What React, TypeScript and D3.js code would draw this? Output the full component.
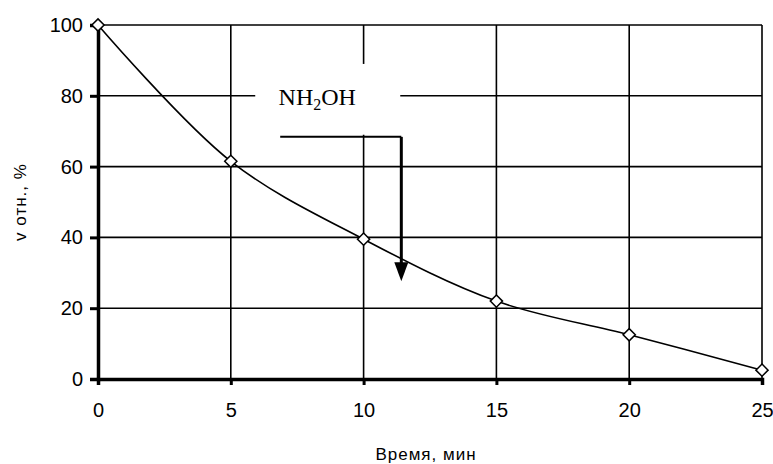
import React, { useEffect, useRef } from 'react';
import * as d3 from 'd3';

// time, min
const times = [0, 5, 10, 15, 20, 25];
// relative rate, %
const rates = [100, 61.5, 39.5, 22, 12.5, 2.5];
const xTicks = [0, 5, 10, 15, 20, 25];
const yTicks = [0, 20, 40, 60, 80, 100];

const App = () => {
  const svgRef = useRef<SVGSVGElement>(null);

  useEffect(() => {
    const svg = d3.select(svgRef.current);
    svg.selectAll('*').remove();

    const width = 773;
    const height = 464;
    const margin = { top: 25, right: 11, bottom: 85, left: 98 };
    const font = 'Arial, "Liberation Sans", sans-serif';

    const x = d3.scaleLinear().domain([0, 25]).range([margin.left, width - margin.right]);
    const y = d3.scaleLinear().domain([0, 100]).range([height - margin.bottom, margin.top]);

    // grid
    const grid = svg.append('g').attr('stroke', '#000').attr('stroke-width', 1.6);
    grid.selectAll('line.v')
      .data(xTicks.slice(1))
      .enter().append('line')
      .attr('x1', d => x(d)).attr('x2', d => x(d))
      .attr('y1', y(0)).attr('y2', y(100));
    grid.selectAll('line.h')
      .data(yTicks.slice(1))
      .enter().append('line')
      .attr('x1', x(0)).attr('x2', x(25))
      .attr('y1', d => y(d)).attr('y2', d => y(d));

    // white box behind annotation
    svg.append('rect')
      .attr('x', x(5.92)).attr('y', y(89))
      .attr('width', x(11.38) - x(5.92))
      .attr('height', y(69) - y(89))
      .attr('fill', '#fff');

    // axes
    svg.append('g')
      .attr('transform', `translate(0,${y(0)})`)
      .call(d3.axisBottom(x).tickValues(xTicks).tickSize(6).tickPadding(18))
      .call(g => g.select('.domain').attr('stroke-width', 3.5))
      .call(g => g.selectAll('.tick line').attr('stroke-width', 3))
      .call(g => g.selectAll('.tick text').attr('font-size', 20).attr('font-family', font).attr('fill', '#000'));

    svg.append('g')
      .attr('transform', `translate(${x(0)},0)`)
      .call(d3.axisLeft(y).tickValues(yTicks).tickSize(8).tickPadding(7))
      .call(g => g.select('.domain').attr('stroke-width', 3.5))
      .call(g => g.selectAll('.tick line').attr('stroke-width', 3))
      .call(g => g.selectAll('.tick text').attr('font-size', 20).attr('font-family', font).attr('fill', '#000'));

    // curve
    const line = d3.line<number>()
      .x((_, i) => x(times[i]))
      .y(d => y(d))
      .curve(d3.curveCatmullRom.alpha(0.5));

    svg.append('path')
      .datum(rates)
      .attr('d', line)
      .attr('fill', 'none')
      .attr('stroke', '#000')
      .attr('stroke-width', 1.6);

    // markers
    svg.selectAll('path.mk')
      .data(rates)
      .enter().append('path')
      .attr('d', d3.symbol(d3.symbolDiamond2, 95))
      .attr('transform', (d, i) => `translate(${x(times[i])},${y(d)})`)
      .attr('fill', '#fff')
      .attr('stroke', '#000')
      .attr('stroke-width', 1.5);

    // annotation
    const label = svg.append('text')
      .attr('x', x(6.8)).attr('y', y(77.3))
      .attr('font-family', '"Liberation Serif", "Times New Roman", serif')
      .attr('font-size', 24)
      .attr('fill', '#000');
    label.append('tspan').text('NH');
    label.append('tspan').text('2').attr('font-size', 16).attr('dy', 5);
    label.append('tspan').text('OH').attr('dy', -5);

    svg.append('line')
      .attr('x1', x(6.86)).attr('x2', x(11.42))
      .attr('y1', y(68.4)).attr('y2', y(68.4))
      .attr('stroke', '#000').attr('stroke-width', 2);
    svg.append('line')
      .attr('x1', x(11.42)).attr('x2', x(11.42))
      .attr('y1', y(68.4)).attr('y2', y(32))
      .attr('stroke', '#000').attr('stroke-width', 3);
    svg.append('path')
      .attr('d', `M${x(11.42) - 7},${y(33)} L${x(11.42) + 7},${y(33)} L${x(11.42)},${y(27.6)} Z`)
      .attr('fill', '#000');

    // axis titles
    svg.append('text')
      .attr('x', 426).attr('y', 460)
      .attr('text-anchor', 'middle')
      .attr('font-family', font)
      .attr('font-size', 17)
      .attr('letter-spacing', 1)
      .text('Время, мин');

    svg.append('text')
      .attr('transform', `translate(26,${(y(0) + y(100)) / 2}) rotate(-90)`)
      .attr('text-anchor', 'middle')
      .attr('font-family', font)
      .attr('font-size', 17)
      .attr('letter-spacing', 1)
      .text('v отн., %');
  }, []);

  return (
    <svg ref={svgRef} width={773} height={464}
      style={{ position: 'absolute', left: 0, top: 0, background: '#fff' }} />
  );
};

export default App;
